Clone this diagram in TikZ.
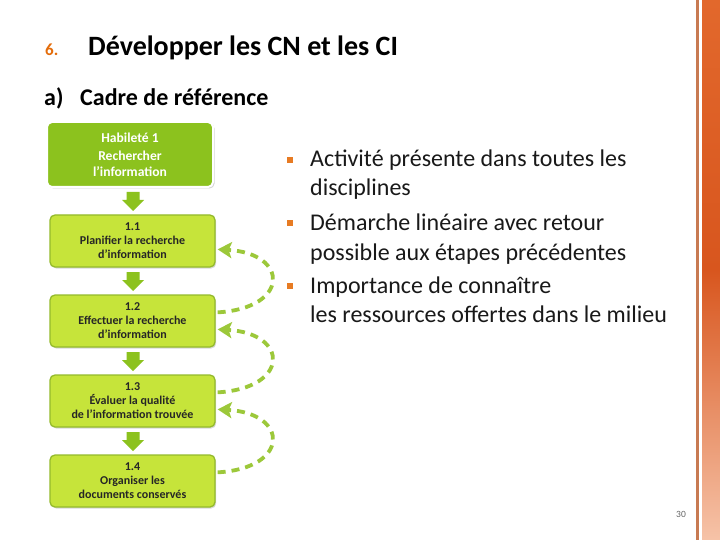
\documentclass[tikz,border=0pt]{standalone}
\usepackage{fontspec}
\setmainfont{Carlito}
\usetikzlibrary{shadows,arrows.meta,calc}
\definecolor{dkgreen}{HTML}{8CC21E}
\definecolor{ltgreen}{HTML}{C6E43A}
\definecolor{bordgreen}{HTML}{94BA2C}
\definecolor{dashgreen}{HTML}{9CC83A}
\definecolor{orng}{HTML}{E46C0A}
\definecolor{stripA}{HTML}{E2682C}
\definecolor{stripB}{HTML}{D8561E}
\definecolor{stripC}{HTML}{F6C3A8}
\definecolor{thinline}{HTML}{C87A52}
\tikzset{
  topbox/.style={draw=white, line width=2pt, fill=dkgreen, rounded corners=5pt,
    minimum width=166pt, minimum height=65pt, align=center, text=white,
    font=\fontsize{13.6}{16}\selectfont\bfseries,
    drop shadow={opacity=0.35, shadow xshift=1.5pt, shadow yshift=-1.5pt}},
  stepbox/.style={draw=bordgreen, line width=1.3pt, fill=ltgreen, rounded corners=5pt,
    minimum width=165pt, minimum height=52pt, align=center, text=black!85,
    font=\fontsize{12}{14}\selectfont\bfseries,
    drop shadow={opacity=0.3, shadow xshift=1.2pt, shadow yshift=-1.5pt}},
  blockfill/.style={fill=dkgreen},
  dasharrow/.style={draw=dashgreen, line width=3.8pt, dash pattern=on 8pt off 6pt,
    -{Stealth[length=14pt,width=16pt,inset=3pt]}},
  bullettext/.style={anchor=base west, inner sep=0pt, font=\fontsize{24}{28}\selectfont, text=black!90},
  bulletmark/.style={fill=orng!90!white, minimum size=5.5pt, inner sep=0pt}
}
\newcommand{\blockarr}[2]{% x, y of shaft top
  \fill[blockfill] (#1-6.5,#2) -- (#1+6.5,#2) -- (#1+6.5,#2+8) -- (#1+11,#2+8)
    -- (#1,#2+19) -- (#1-11,#2+8) -- (#1-6.5,#2+8) -- cycle;}
\begin{document}
\begin{tikzpicture}[x=1pt,y=-1pt]
\useasboundingbox (0,0) rectangle (720,540);
\fill[white] (0,0) rectangle (720,540);

% right strip
\fill[thinline] (696,0) rectangle (698.5,540);
\shade[top color=stripA, bottom color=stripC, middle color=stripB] (702,0) rectangle (720,540);

% titles
\node[anchor=base west, inner sep=0pt, text=orng, font=\fontsize{17}{19}\selectfont\bfseries] (num) at (45,56) {6.};
\node[anchor=base west, inner sep=0pt, font=\fontsize{28}{32}\selectfont\bfseries] (title) at (88,56) {Développer les CN et les CI};
\node[anchor=base west, inner sep=0pt, font=\fontsize{24}{28}\selectfont\bfseries] (sub) at (44,106) {a)};
\node[anchor=base west, inner sep=0pt, font=\fontsize{24}{28}\selectfont\bfseries] (sub2) at (80,106) {Cadre de référence};

% boxes
\node[topbox] (top) at (130,154.5) {Habileté 1\\[2pt]Rechercher\\l’information};
\node[stepbox] (b11) at (132.5,241) {1.1\\Planifier la recherche\\d'information};
\node[stepbox] (b12) at (132.5,321) {1.2\\Effectuer la recherche\\d'information};
\node[stepbox] (b13) at (132.5,401) {1.3\\Évaluer la qualité\\de l'information trouvée};
\node[stepbox] (b14) at (132.5,481) {1.4\\Organiser les\\documents conservés};

% block arrows
\blockarr{133}{192}
\blockarr{133}{272}
\blockarr{133}{352}
\blockarr{133}{432}

% dashed return arrows
\coordinate (s12) at ($(b12.north east)+(2,18)$);
\coordinate (e11) at ($(b11.north east)+(2,35)$);
\coordinate (s13) at ($(b13.north east)+(2,18)$);
\coordinate (e12) at ($(b12.north east)+(2,35)$);
\coordinate (s14) at ($(b14.north east)+(2,18)$);
\coordinate (e13) at ($(b13.north east)+(2,35)$);
\draw[dasharrow] (s12) .. controls ($(s12)+(72,-4)$) and ($(e11)+(72,4)$) .. (e11);
\draw[dasharrow] (s13) .. controls ($(s13)+(72,-4)$) and ($(e12)+(72,4)$) .. (e12);
\draw[dasharrow] (s14) .. controls ($(s14)+(72,-4)$) and ($(e13)+(72,4)$) .. (e13);

% bullets
\node[bulletmark] (m1) at (290,160) {};
\node[bulletmark] (m2) at (290,223) {};
\node[bulletmark] (m3) at (290,286) {};
\node[bullettext] (t1a) at (310,167) {Activité présente dans toutes les};
\node[bullettext] (t1b) at (310,196) {disciplines};
\node[bullettext] (t2a) at (310,230) {Démarche linéaire avec retour};
\node[bullettext] (t2b) at (310,260) {possible aux étapes précédentes};
\node[bullettext] (t3a) at (310,293) {Importance de connaître};
\node[bullettext] (t3b) at (310,322) {les ressources offertes dans le milieu};

% page number
\node[anchor=base, inner sep=0pt, text=black!60, font=\fontsize{9.5}{10}\selectfont] (pg) at (681,517) {30};
\end{tikzpicture}
\end{document}
